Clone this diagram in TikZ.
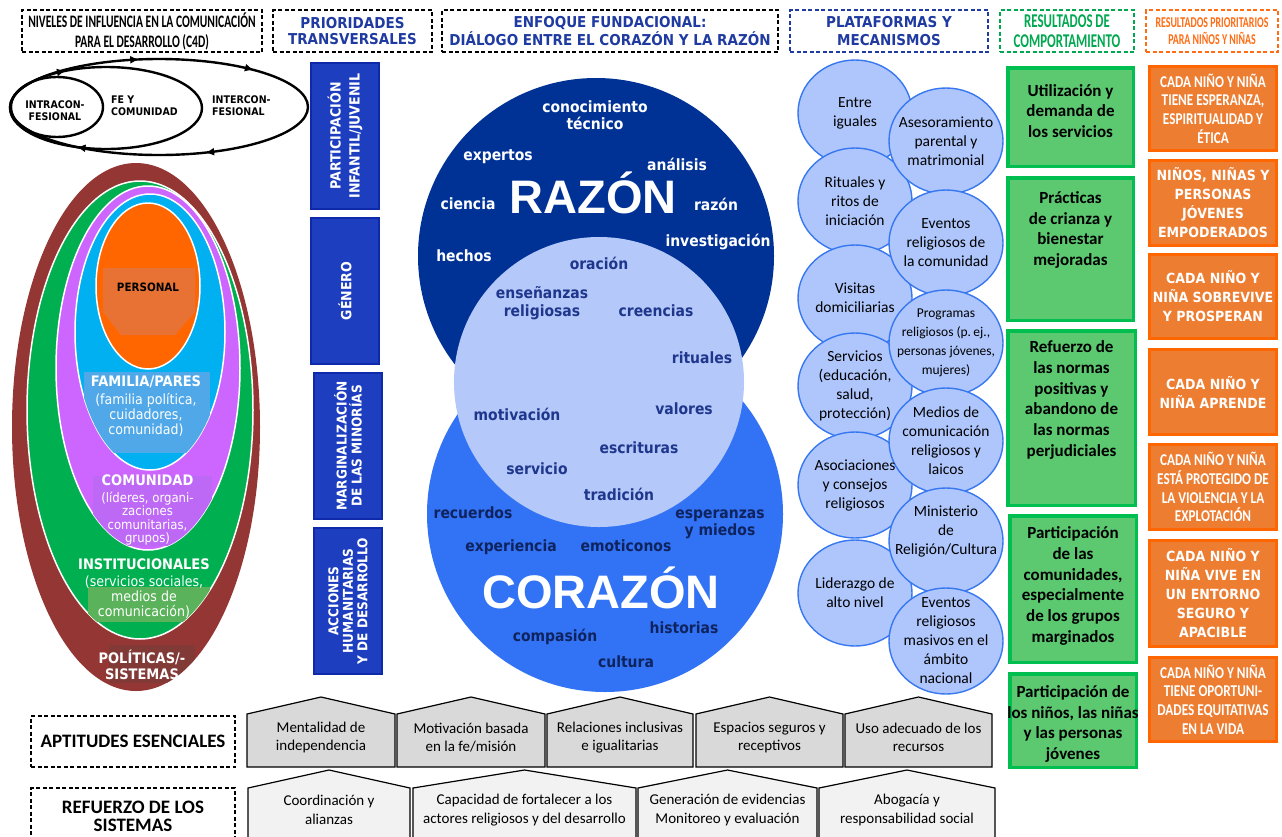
\documentclass[tikz,border=0pt]{standalone}
\usepackage{fontspec}
\setmainfont{Carlito}
\newfontfamily\tahoma[FakeStretch=0.9]{DejaVu Sans}
\newfontfamily\condensed[FakeStretch=0.8]{Carlito}
\newfontfamily\twcen[FakeStretch=0.66]{Carlito}
\newfontfamily\arialfont{Liberation Sans}
\usetikzlibrary{shapes.geometric,decorations.markings,arrows.meta}
\newcommand\fsz[2]{\fontsize{#1}{#2}\selectfont}

\definecolor{hdrblue}{RGB}{31,58,160}
\definecolor{hdrgreen}{RGB}{0,168,80}
\definecolor{hdrorange}{RGB}{255,108,20}
\definecolor{prioblue}{RGB}{30,62,192}
\definecolor{prioedge}{RGB}{14,42,170}
\definecolor{razon}{RGB}{0,50,150}
\definecolor{corazon}{RGB}{50,115,245}
\definecolor{fe}{RGB}{180,200,250}
\definecolor{feword}{RGB}{30,55,140}
\definecolor{corword}{RGB}{15,35,95}
\definecolor{platfill}{RGB}{174,198,252}
\definecolor{platedge}{RGB}{55,120,240}
\definecolor{resfill}{RGB}{92,200,112}
\definecolor{resedge}{RGB}{0,190,80}
\definecolor{kidfill}{RGB}{237,125,49}
\definecolor{kidedge}{RGB}{255,102,0}
\definecolor{lvlbrown}{RGB}{148,55,52}
\definecolor{lvlgreen}{RGB}{0,176,80}
\definecolor{lvlviolet}{RGB}{204,102,255}
\definecolor{lvlcyan}{RGB}{0,176,240}
\definecolor{lvlorange}{RGB}{255,102,0}
\definecolor{patchbrown}{RGB}{130,58,55}
\definecolor{patchgreen}{RGB}{90,178,90}
\definecolor{patchviolet}{RGB}{190,105,245}
\definecolor{patchcyan}{RGB}{80,168,232}
\definecolor{patchorange}{RGB}{232,114,52}
\definecolor{aptfill}{RGB}{217,217,217}
\definecolor{sysfill}{RGB}{242,242,242}

\begin{document}
\begin{tikzpicture}[x=1pt, y=-1pt,
  hdr/.style={draw, line width=1.2pt, dash pattern=on 4pt off 2.5pt, minimum height=42, inner sep=0pt, align=center},
  flowtip/.style={postaction={decorate, decoration={markings, mark=at position #1 with {\arrow{Latex[length=9pt, width=8pt]}}}}},
  ring/.style={align=center, inner sep=0pt, font=\tahoma\bfseries\fsz{10.5}{12}},
  lvl/.style={align=center, inner sep=0pt, text=white, font=\tahoma\fsz{14}{15}},
  prio/.style={fill=prioblue, draw=prioedge, line width=2pt, rotate=90, minimum width=146, minimum height=68, inner sep=0pt, align=center, text=white},
  word/.style={inner sep=0pt, align=center, font=\tahoma\bfseries\fsz{15.5}{17}},
  big/.style={inner sep=0pt, text=white, font=\arialfont\bfseries\fsz{47}{47}},
  plat/.style={ellipse, draw=platedge, fill=platfill, line width=1.4pt, minimum width=114, minimum height=106, inner sep=0pt},
  platlbl/.style={align=center, inner sep=0pt, font=\fsz{15.5}{19}},
  res/.style={draw=resedge, fill=resfill, line width=3.5pt, inner sep=0pt},
  reslbl/.style={align=center, inner sep=0pt, font=\bfseries\fsz{17}{20.7}},
  kid/.style={draw=kidedge, fill=kidfill, line width=3pt, minimum width=127, inner sep=0pt, align=center, text=white, font=\tahoma\bfseries\fsz{14}{19}},
  kidnarrow/.style={kid, font=\condensed\bfseries\fsz{16.5}{18.7}},
  rowlbl/.style={draw, line width=1.2pt, dash pattern=on 4pt off 2.5pt, minimum width=204, inner sep=0pt, align=center, font=\bfseries\fsz{19}{18}},
  hlabel/.style={align=center, inner sep=0pt, font=\fsz{15}{18.5}}]
\path[use as bounding box, fill=white] (0,0) rectangle (1282,836);

% column headers
\node[hdr, minimum width=240, font=\twcen\bfseries\fsz{17.5}{20}] (niveles) at (142,31) {NIVELES DE INFLUENCIA EN LA COMUNICACIÓN\\PARA EL DESARROLLO (C4D)};
\node[hdr, minimum width=159, text=hdrblue, font=\tahoma\bfseries\fsz{15}{16}] (prioridades) at (352.5,31) {PRIORIDADES\\TRANSVERSALES};
\node[hdr, minimum width=336, text=hdrblue, font=\tahoma\bfseries\fsz{15}{16}] (enfoque) at (610,31) {ENFOQUE FUNDACIONAL:\\DIÁLOGO ENTRE EL CORAZÓN Y LA RAZÓN};
\node[hdr, draw=hdrblue, minimum width=198, text=hdrblue, font=\tahoma\bfseries\fsz{15}{18}] (plataformas) at (889,31) {PLATAFORMAS Y\\MECANISMOS};
\node[hdr, draw=hdrgreen, minimum width=134, text=hdrgreen, font=\twcen\bfseries\fsz{19.5}{19.5}] (rescomp) at (1067,31) {RESULTADOS DE\\COMPORTAMIENTO};
\node[hdr, draw=hdrorange, minimum width=132, text=hdrorange, font=\twcen\bfseries\fsz{15}{17}] (resprio) at (1212,31) {RESULTADOS PRIORITARIOS\\PARA NIÑOS Y NIÑAS};

% religious spheres
\draw[line width=2.4pt, flowtip=0.18, flowtip=0.72, flowtip=0.895] (159,107) ellipse [x radius=149, y radius=48];
\draw[line width=2.4pt, flowtip=0.316, flowtip=0.66] (106,108) ellipse [x radius=96, y radius=41];
\draw[line width=2.4pt] (57,107) ellipse [x radius=46, y radius=30];
\node[ring] (intra) at (55,111) {INTRACON-\\FESIONAL};
\node[ring, align=left, anchor=west] (fecom) at (111,106) {FE Y\\COMUNIDAD};
\node[ring, align=left, anchor=west] (inter) at (212,106) {INTERCON-\\FESIONAL};

% levels
\fill[lvlbrown] (136,427) ellipse [x radius=124, y radius=264];
\begin{scope}
  \clip (136,427) ellipse [x radius=124, y radius=264];
  \fill[patchbrown] (109,645) rectangle (195,683);
\end{scope}
\filldraw[fill=lvlgreen, draw=white, line width=1.5pt] (140,410) ellipse [x radius=113, y radius=229];
\begin{scope}
  \clip (140,410) ellipse [x radius=113, y radius=229];
  \fill[patchgreen] (88,587) rectangle (210,622);
\end{scope}
\filldraw[fill=lvlviolet, draw=white, line width=1.5pt] (148,368) ellipse [x radius=92, y radius=182];
\begin{scope}
  \clip (148,368) ellipse [x radius=92, y radius=182];
  \fill[patchviolet] (93,476) rectangle (212,546);
\end{scope}
\filldraw[fill=lvlcyan, draw=white, line width=1.5pt] (150,332) ellipse [x radius=75, y radius=138];
\begin{scope}
  \clip (150,332) ellipse [x radius=75, y radius=138];
  \fill[patchcyan] (84,372) rectangle (210,453);
\end{scope}
\filldraw[fill=lvlorange, draw=white, line width=1.5pt] (148,286) ellipse [x radius=52, y radius=83];
\fill[patchorange] (103,268) -- (195,268) -- (195,312) -- (175,335) -- (121,335) -- (103,312) -- cycle;
\node[inner sep=0pt, font=\tahoma\bfseries\fsz{11.5}{13}] (personal) at (148,287) {PERSONAL};
\node[lvl] (familia) at (146,406) {{\bfseries\fsz{14.5}{15}FAMILIA/PARES}\\[3pt](familia política,\\cuidadores,\\comunidad)};
\node[lvl, font=\tahoma\fsz{13}{13.5}] (comunidad) at (147.5,510) {{\bfseries\fsz{14.5}{15}COMUNIDAD}\\[3pt](líderes, organi-\\zaciones\\comunitarias,\\grupos)};
\node[lvl] (instituciones) at (144,589) {{\bfseries\fsz{14.5}{15}INSTITUCIONALES}\\[2pt](servicios sociales,\\medios de\\comunicación)};
\node[lvl, font=\tahoma\bfseries\fsz{14.5}{16}] (politicas) at (142,665) {POLÍTICAS/-\\SISTEMAS};

% cross-cutting priorities
\node[prio, font=\tahoma\bfseries\fsz{14}{19}] (participacion) at (345,136) {PARTICIPACIÓN\\INFANTIL/JUVENIL};
\node[prio, font=\tahoma\bfseries\fsz{14}{19}] (genero) at (345,291) {GÉNERO};
\node[prio, font=\tahoma\bfseries\fsz{13.5}{15}] (minorias) at (348,446) {MARGINALIZACIÓN\\DE LAS MINORÍAS};
\node[prio, font=\tahoma\bfseries\fsz{13.5}{14.5}] (acciones) at (348,601) {ACCIONES\\HUMANITARIAS\\Y DE DESARROLLO};

% heart and reason
\node[circle, fill=razon, minimum size=356, inner sep=0pt] (razon) at (596,256) {};
\node[circle, fill=corazon, minimum size=356, inner sep=0pt] (corazon) at (605,514) {};
\node[circle, fill=fe, minimum size=290, inner sep=0pt] (fe) at (599,382) {};
\node[word, text=white] (conocimiento) at (595,115) {conocimiento\\técnico};
\node[word, text=white] (expertos) at (498,157) {expertos};
\node[word, text=white] (analisis) at (677,164) {análisis};
\node[word, text=white] (ciencia) at (468,204) {ciencia};
\node[word, text=white] (razonw) at (716,204) {razón};
\node[word, text=white] (investigacion) at (718,242) {investigación};
\node[word, text=white] (hechos) at (464,256) {hechos};
\node[big] (razonlbl) at (593,193) {RAZÓN};
\node[word, text=feword] (oracion) at (599,263) {oración};
\node[word, text=feword, font=\tahoma\bfseries\fsz{15.5}{18}] (ensenanzas) at (542,303) {enseñanzas\\religiosas};
\node[word, text=feword] (creencias) at (656,311) {creencias};
\node[word, text=feword] (rituales) at (702,358) {rituales};
\node[word, text=feword] (motivacion) at (517,414) {motivación};
\node[word, text=feword] (valores) at (684,409) {valores};
\node[word, text=feword] (escrituras) at (639,448) {escrituras};
\node[word, text=feword] (servicio) at (537,469) {servicio};
\node[word, text=feword] (tradicion) at (619,494) {tradición};
\node[word, text=corword] (recuerdos) at (473,513) {recuerdos};
\node[word, text=corword] (esperanzas) at (720,524) {esperanzas\\y miedos};
\node[word, text=corword] (experiencia) at (511,547) {experiencia};
\node[word, text=corword] (emoticonos) at (626,546) {emoticonos};
\node[big] (corazonlbl) at (601,588) {CORAZÓN};
\node[word, text=corword] (historias) at (684,628) {historias};
\node[word, text=corword] (compasion) at (555,637) {compasión};
\node[word, text=corword] (cultura) at (626,662) {cultura};

% platforms
\node[plat] (iguales) at (855,113) {};
\node[plat] (ritos) at (855,201) {};
\node[plat] (visitas) at (855,298) {};
\node[plat] (servicios) at (855,386) {};
\node[plat] (asociaciones) at (855,485) {};
\node[plat] (liderazgo) at (855,593) {};
\node[plat] (asesoria) at (946,141) {};
\node[plat] (eventos) at (946,243) {};
\node[plat] (programas) at (946,343) {};
\node[plat] (medios) at (946,441) {};
\node[plat] (ministerio) at (946,541) {};
\node[plat] (masivos) at (946,641) {};
\node[platlbl] at (iguales) {Entre\\iguales};
\node[platlbl] at (ritos) {Rituales y\\ritos de\\iniciación};
\node[platlbl] at (visitas) {Visitas\\domiciliarias};
\node[platlbl] at (servicios) {Servicios\\(educación,\\salud,\\protección)};
\node[platlbl] at (asociaciones) {Asociaciones\\y consejos\\religiosos};
\node[platlbl] at (liderazgo) {Liderazgo de\\alto nivel};
\node[platlbl] at (asesoria) {Asesoramiento\\parental y\\matrimonial};
\node[platlbl] at (eventos) {Eventos\\religiosos de\\la comunidad};
\node[platlbl, font=\fsz{13.5}{19}] at (programas) {Programas\\religiosos (p.\,ej.,\\personas jóvenes,\\mujeres)};
\node[platlbl] at (medios) {Medios de\\comunicación\\religiosos y\\laicos};
\node[platlbl] at ([yshift=10pt]ministerio.center) {Ministerio\\de\\Religión/Cultura};
\node[platlbl] at (masivos) {Eventos\\religiosos\\masivos en el\\ámbito\\nacional};

% behaviour results
\node[res, minimum width=125.5, minimum height=98.5] (uso) at (1070.5,117) {};
\node[res, minimum width=125.5, minimum height=142.5] (crianza) at (1070.5,249) {};
\node[res, minimum width=127.5, minimum height=174.5] (normas) at (1071.5,418) {};
\node[res, minimum width=126.5, minimum height=146.5] (comunidades) at (1073,589) {};
\node[res, minimum width=126.5, minimum height=93.5] (jovenes) at (1073,720.5) {};
\node[reslbl] at (1070.5,111) {Utilización y\\demanda de\\los servicios};
\node[reslbl] at (1070.5,230) {Prácticas\\de crianza y\\bienestar\\mejoradas};
\node[reslbl] at (1071.5,400) {Refuerzo de\\las normas\\positivas y\\abandono de\\las normas\\perjudiciales};
\node[reslbl] at (1073,586) {Participación\\de las\\comunidades,\\especialmente\\de los grupos\\marginados};
\node[reslbl] at (1073,724) {Participación de\\los niños, las niñas\\y las personas\\jóvenes};

% priority results for children
\node[kidnarrow, minimum height=84] (esperanza) at (1213,108.5) {CADA NIÑO Y NIÑA\\TIENE ESPERANZA,\\ESPIRITUALIDAD Y\\ÉTICA};
\node[kid, minimum height=85] (empoderados) at (1213,203) {NIÑOS, NIÑAS Y\\PERSONAS\\JÓVENES\\EMPODERADOS};
\node[kid, minimum height=84] (sobrevive) at (1213,296.5) {CADA NIÑO Y\\NIÑA SOBREVIVE\\Y PROSPERAN};
\node[kid, minimum height=85] (aprende) at (1213,392) {CADA NIÑO Y\\NIÑA APRENDE};
\node[kidnarrow, minimum height=85] (protegido) at (1213,487) {CADA NIÑO Y NIÑA\\ESTÁ PROTEGIDO DE\\LA VIOLENCIA Y LA\\EXPLOTACIÓN};
\node[kid, minimum height=106] (entorno) at (1213,593.5) {CADA NIÑO Y\\NIÑA VIVE EN\\UN ENTORNO\\SEGURO Y\\APACIBLE};
\node[kidnarrow, minimum height=84] (oportunidades) at (1213,699.5) {CADA NIÑO Y NIÑA\\TIENE OPORTUNI-\\DADES EQUITATIVAS\\EN LA VIDA};

% essential skills and system strengthening
\node[rowlbl, minimum height=51] (aptitudes) at (133,741.5) {APTITUDES ESENCIALES};
\node[rowlbl, minimum height=56] (sistemas) at (133,816) {REFUERZO DE LOS\\SISTEMAS};
\foreach \xa/\xb/\txt [count=\n] in {247/395/{Mentalidad de\\independencia}, 397/545/{Motivación basada\\en la fe/misión}, 547/693/{Relaciones inclusivas\\e igualitarias}, 696/843/{Espacios seguros y\\receptivos}, 845/992/{Uso adecuado de los\\recursos}}{
  \filldraw[fill=aptfill, line width=1.2pt] (\xa,767) -- (\xa,714) -- ({(\xa+\xb)/2},697) -- (\xb,714) -- (\xb,767) -- cycle;
  \node[hlabel] (apt\n) at ({(\xa+\xb)/2},737.5) {\txt};
}
\foreach \xa/\xb/\txt [count=\n] in {248/410/{Coordinación y\\alianzas}, 413/636/{Capacidad de fortalecer a los\\actores religiosos y del desarrollo}, 638/817/{Generación de evidencias\\Monitoreo y evaluación}, 819/995/{Abogacía y\\responsabilidad social}}{
  \filldraw[fill=sysfill, line width=1.2pt] (\xa,850) -- (\xa,788) -- ({(\xa+\xb)/2},770) -- (\xb,788) -- (\xb,850) -- cycle;
  \node[hlabel] (sys\n) at ({(\xa+\xb)/2},810) {\txt};
}
\end{tikzpicture}
\end{document}
